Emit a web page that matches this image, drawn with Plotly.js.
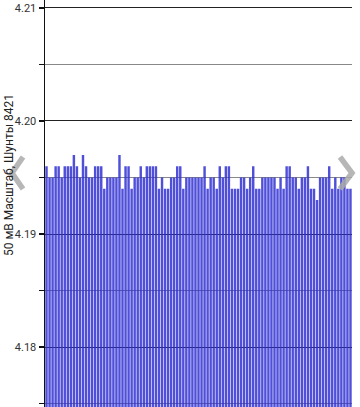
<!DOCTYPE html>
<html>
<head>
<meta charset="utf-8">
<script src="https://cdn.plot.ly/plotly-3.0.1.min.js"></script>
<style>html,body{margin:0;padding:0;background:#fff;}#chart{width:360px;height:407px;}</style>
</head>
<body>
<div id="chart"></div>
<script>
// Voltage readings (V), one bar per sample
const values = [
  4.196,4.195,4.195,4.196,4.196,4.195,4.196,4.196,4.196,4.197,4.196,4.195,4.197,4.196,4.195,4.195,4.196,4.196,4.196,4.194,4.195,4.195,4.195,4.195,4.197,
  4.194,4.196,4.196,4.194,4.195,4.195,4.196,4.195,4.196,4.196,4.196,4.196,4.194,4.195,4.194,4.194,4.195,4.195,4.196,4.196,4.194,4.195,4.195,4.195,4.195,
  4.195,4.195,4.196,4.194,4.195,4.195,4.194,4.196,4.195,4.196,4.196,4.194,4.194,4.194,4.195,4.195,4.194,4.195,4.196,4.194,4.194,4.195,4.195,4.195,4.195,
  4.195,4.194,4.195,4.194,4.196,4.196,4.195,4.195,4.194,4.195,4.195,4.196,4.194,4.194,4.193,4.195,4.195,4.195,4.196,4.194,4.195,4.194,4.195,4.195,4.194,4.194
];
const samples = values.map((v, i) => i + 1);
const yTitle = "50 мВ Масштаб, Шунты 8421";

const W = 360, H = 407, L = 45, R = 8;
const pw = W - L - R;
const px = x => (x - L) / pw;
const py = y => 1 - y / H;
const chev = pts => 'M ' + pts.map(p => px(p[0]) + ',' + py(p[1])).join(' L ');

const trace = {
  type: 'bar',
  x: samples,
  y: values,
  marker: {color: '#3030d4', opacity: 0.85, line: {width: 0}},
  hoverinfo: 'none'
};

const layout = {
  width: W, height: H,
  margin: {l: L, r: R, t: 0, b: 0, pad: 0},
  paper_bgcolor: '#ffffff',
  plot_bgcolor: '#ffffff',
  bargap: 0.2,
  showlegend: false,
  font: {family: 'Roboto, sans-serif', size: 11, color: '#333'},
  xaxis: {
    visible: false,
    range: [0.5, samples.length + 0.5],
    fixedrange: true
  },
  yaxis: {
    range: [4.1747, 4.2107],
    dtick: 0.01,
    tick0: 4.18,
    tickformat: '.2f',
    ticks: 'outside',
    ticklen: 5,
    tickcolor: '#111',
    tickwidth: 1.5,
    showline: true,
    linecolor: '#111',
    linewidth: 1.5,
    showgrid: true,
    gridcolor: '#222',
    gridwidth: 1,
    zeroline: false,
    tickfont: {size: 11, color: '#333'},
    minor: {
      dtick: 0.005,
      tick0: 4.175,
      ticks: 'outside',
      ticklen: 5,
      tickcolor: '#111',
      tickwidth: 1.5,
      showgrid: true,
      gridcolor: '#888',
      gridwidth: 1
    },
    fixedrange: true
  },
  annotations: [{
    text: yTitle,
    xref: 'paper', yref: 'paper',
    x: px(9), y: py(175),
    textangle: -90,
    showarrow: false,
    font: {size: 12, color: '#222', family: 'Roboto, sans-serif'},
    xanchor: 'center', yanchor: 'middle'
  }],
  shapes: [
    {type: 'path', xref: 'paper', yref: 'paper', layer: 'above',
     path: chev([[23,157],[12,173],[23,189]]),
     line: {color: 'rgba(170,170,170,0.85)', width: 5.5}},
    {type: 'path', xref: 'paper', yref: 'paper', layer: 'above',
     path: chev([[340,157],[352,173],[340,189]]),
     line: {color: 'rgba(170,170,170,0.85)', width: 5.5}}
  ]
};

Plotly.newPlot('chart', [trace], layout, {displayModeBar: false, staticPlot: true});
</script>
</body>
</html>
